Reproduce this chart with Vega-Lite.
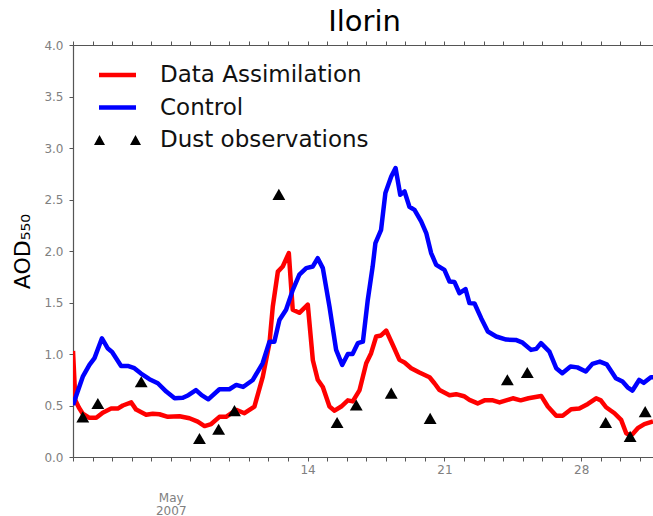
{
  "$schema": "https://vega.github.io/schema/vega-lite/v6.json",
  "width": 580,
  "height": 412,
  "autosize": {"type": "none"},
  "padding": {"left": 73, "top": 45, "right": 0, "bottom": 59},
  "background": "white",
  "title": {"text": "Ilorin", "fontSize": 29, "font": "DejaVu Sans", "fontWeight": "normal", "color": "#000000", "frame": "group", "anchor": "middle", "offset": 9, "baseline": "alphabetic", "dx": 1.5, "dy": 30},
  "config": {
    "font": "DejaVu Sans",
    "view": {"stroke": null},
    "axis": {"grid": false, "domainColor": "#555555", "tickColor": "#555555", "labelColor": "#808080", "labelFont": "DejaVu Sans", "labelFontSize": 12, "tickSize": 4, "domainWidth": 1.2, "tickWidth": 1}
  },
  "datasets": {
    "lines": [
      {"s": "Data Assimilation", "d": 2.0, "v": 1.03},
      {"s": "Data Assimilation", "d": 2.12, "v": 0.55},
      {"s": "Data Assimilation", "d": 2.3, "v": 0.48},
      {"s": "Data Assimilation", "d": 2.5, "v": 0.42},
      {"s": "Data Assimilation", "d": 2.84, "v": 0.38},
      {"s": "Data Assimilation", "d": 3.19, "v": 0.38},
      {"s": "Data Assimilation", "d": 3.52, "v": 0.43},
      {"s": "Data Assimilation", "d": 3.95, "v": 0.47},
      {"s": "Data Assimilation", "d": 4.29, "v": 0.47},
      {"s": "Data Assimilation", "d": 4.55, "v": 0.5},
      {"s": "Data Assimilation", "d": 4.98, "v": 0.53},
      {"s": "Data Assimilation", "d": 5.23, "v": 0.46},
      {"s": "Data Assimilation", "d": 5.74, "v": 0.41},
      {"s": "Data Assimilation", "d": 6.08, "v": 0.42},
      {"s": "Data Assimilation", "d": 6.42, "v": 0.415},
      {"s": "Data Assimilation", "d": 6.85, "v": 0.39},
      {"s": "Data Assimilation", "d": 7.45, "v": 0.395},
      {"s": "Data Assimilation", "d": 7.96, "v": 0.376},
      {"s": "Data Assimilation", "d": 8.38, "v": 0.343},
      {"s": "Data Assimilation", "d": 8.73, "v": 0.3},
      {"s": "Data Assimilation", "d": 9.07, "v": 0.32},
      {"s": "Data Assimilation", "d": 9.49, "v": 0.39},
      {"s": "Data Assimilation", "d": 9.83, "v": 0.39},
      {"s": "Data Assimilation", "d": 10.35, "v": 0.457},
      {"s": "Data Assimilation", "d": 10.77, "v": 0.425},
      {"s": "Data Assimilation", "d": 11.28, "v": 0.49},
      {"s": "Data Assimilation", "d": 11.71, "v": 0.78},
      {"s": "Data Assimilation", "d": 12.05, "v": 1.105},
      {"s": "Data Assimilation", "d": 12.22, "v": 1.46},
      {"s": "Data Assimilation", "d": 12.48, "v": 1.8},
      {"s": "Data Assimilation", "d": 12.73, "v": 1.85},
      {"s": "Data Assimilation", "d": 13.04, "v": 1.98},
      {"s": "Data Assimilation", "d": 13.24, "v": 1.43},
      {"s": "Data Assimilation", "d": 13.58, "v": 1.4},
      {"s": "Data Assimilation", "d": 14.01, "v": 1.48},
      {"s": "Data Assimilation", "d": 14.27, "v": 0.94},
      {"s": "Data Assimilation", "d": 14.52, "v": 0.75},
      {"s": "Data Assimilation", "d": 14.78, "v": 0.68},
      {"s": "Data Assimilation", "d": 15.12, "v": 0.49},
      {"s": "Data Assimilation", "d": 15.38, "v": 0.45},
      {"s": "Data Assimilation", "d": 15.72, "v": 0.49},
      {"s": "Data Assimilation", "d": 16.06, "v": 0.55},
      {"s": "Data Assimilation", "d": 16.31, "v": 0.54},
      {"s": "Data Assimilation", "d": 16.66, "v": 0.65},
      {"s": "Data Assimilation", "d": 17.0, "v": 0.91},
      {"s": "Data Assimilation", "d": 17.25, "v": 1.008},
      {"s": "Data Assimilation", "d": 17.51, "v": 1.17},
      {"s": "Data Assimilation", "d": 17.76, "v": 1.18},
      {"s": "Data Assimilation", "d": 18.02, "v": 1.228},
      {"s": "Data Assimilation", "d": 18.36, "v": 1.088},
      {"s": "Data Assimilation", "d": 18.7, "v": 0.943},
      {"s": "Data Assimilation", "d": 18.96, "v": 0.917},
      {"s": "Data Assimilation", "d": 19.3, "v": 0.862},
      {"s": "Data Assimilation", "d": 19.72, "v": 0.82},
      {"s": "Data Assimilation", "d": 20.24, "v": 0.774},
      {"s": "Data Assimilation", "d": 20.49, "v": 0.716},
      {"s": "Data Assimilation", "d": 20.75, "v": 0.65},
      {"s": "Data Assimilation", "d": 21.26, "v": 0.6},
      {"s": "Data Assimilation", "d": 21.6, "v": 0.61},
      {"s": "Data Assimilation", "d": 22.0, "v": 0.59},
      {"s": "Data Assimilation", "d": 22.28, "v": 0.554},
      {"s": "Data Assimilation", "d": 22.7, "v": 0.52},
      {"s": "Data Assimilation", "d": 23.05, "v": 0.55},
      {"s": "Data Assimilation", "d": 23.48, "v": 0.55},
      {"s": "Data Assimilation", "d": 23.82, "v": 0.53},
      {"s": "Data Assimilation", "d": 24.33, "v": 0.56},
      {"s": "Data Assimilation", "d": 24.5, "v": 0.57},
      {"s": "Data Assimilation", "d": 24.9, "v": 0.55},
      {"s": "Data Assimilation", "d": 25.3, "v": 0.57},
      {"s": "Data Assimilation", "d": 25.95, "v": 0.593},
      {"s": "Data Assimilation", "d": 26.29, "v": 0.49},
      {"s": "Data Assimilation", "d": 26.72, "v": 0.4},
      {"s": "Data Assimilation", "d": 27.05, "v": 0.4},
      {"s": "Data Assimilation", "d": 27.48, "v": 0.463},
      {"s": "Data Assimilation", "d": 27.9, "v": 0.47},
      {"s": "Data Assimilation", "d": 28.34, "v": 0.515},
      {"s": "Data Assimilation", "d": 28.76, "v": 0.57},
      {"s": "Data Assimilation", "d": 29.0, "v": 0.55},
      {"s": "Data Assimilation", "d": 29.27, "v": 0.483},
      {"s": "Data Assimilation", "d": 29.7, "v": 0.425},
      {"s": "Data Assimilation", "d": 30.04, "v": 0.36},
      {"s": "Data Assimilation", "d": 30.3, "v": 0.23},
      {"s": "Data Assimilation", "d": 30.5, "v": 0.21},
      {"s": "Data Assimilation", "d": 30.63, "v": 0.224},
      {"s": "Data Assimilation", "d": 30.89, "v": 0.28},
      {"s": "Data Assimilation", "d": 31.23, "v": 0.32},
      {"s": "Data Assimilation", "d": 31.67, "v": 0.345},
      {"s": "Control", "d": 2.0, "v": 0.505},
      {"s": "Control", "d": 2.5, "v": 0.78},
      {"s": "Control", "d": 2.84, "v": 0.894},
      {"s": "Control", "d": 3.1, "v": 0.96},
      {"s": "Control", "d": 3.48, "v": 1.153},
      {"s": "Control", "d": 3.77, "v": 1.056},
      {"s": "Control", "d": 4.0, "v": 1.02},
      {"s": "Control", "d": 4.46, "v": 0.884},
      {"s": "Control", "d": 4.8, "v": 0.884},
      {"s": "Control", "d": 5.14, "v": 0.862},
      {"s": "Control", "d": 5.48, "v": 0.81},
      {"s": "Control", "d": 5.91, "v": 0.755},
      {"s": "Control", "d": 6.34, "v": 0.716},
      {"s": "Control", "d": 6.77, "v": 0.635},
      {"s": "Control", "d": 7.2, "v": 0.57},
      {"s": "Control", "d": 7.62, "v": 0.575},
      {"s": "Control", "d": 7.9, "v": 0.6},
      {"s": "Control", "d": 8.29, "v": 0.65},
      {"s": "Control", "d": 8.58, "v": 0.6},
      {"s": "Control", "d": 8.92, "v": 0.56},
      {"s": "Control", "d": 9.49, "v": 0.658},
      {"s": "Control", "d": 10.0, "v": 0.658},
      {"s": "Control", "d": 10.35, "v": 0.7},
      {"s": "Control", "d": 10.7, "v": 0.68},
      {"s": "Control", "d": 11.2, "v": 0.748},
      {"s": "Control", "d": 11.7, "v": 0.91},
      {"s": "Control", "d": 12.05, "v": 1.12},
      {"s": "Control", "d": 12.3, "v": 1.12},
      {"s": "Control", "d": 12.56, "v": 1.33},
      {"s": "Control", "d": 12.9, "v": 1.43},
      {"s": "Control", "d": 13.24, "v": 1.62},
      {"s": "Control", "d": 13.58, "v": 1.77},
      {"s": "Control", "d": 13.93, "v": 1.834},
      {"s": "Control", "d": 14.27, "v": 1.85},
      {"s": "Control", "d": 14.52, "v": 1.93},
      {"s": "Control", "d": 14.78, "v": 1.834},
      {"s": "Control", "d": 15.12, "v": 1.46},
      {"s": "Control", "d": 15.46, "v": 1.04},
      {"s": "Control", "d": 15.77, "v": 0.894},
      {"s": "Control", "d": 16.06, "v": 1.0},
      {"s": "Control", "d": 16.3, "v": 1.0},
      {"s": "Control", "d": 16.57, "v": 1.105},
      {"s": "Control", "d": 16.83, "v": 1.12},
      {"s": "Control", "d": 17.08, "v": 1.526},
      {"s": "Control", "d": 17.33, "v": 1.85},
      {"s": "Control", "d": 17.47, "v": 2.077},
      {"s": "Control", "d": 17.76, "v": 2.206},
      {"s": "Control", "d": 17.98, "v": 2.563},
      {"s": "Control", "d": 18.28, "v": 2.724},
      {"s": "Control", "d": 18.5, "v": 2.806},
      {"s": "Control", "d": 18.74, "v": 2.546},
      {"s": "Control", "d": 18.96, "v": 2.578},
      {"s": "Control", "d": 19.21, "v": 2.43},
      {"s": "Control", "d": 19.47, "v": 2.4},
      {"s": "Control", "d": 19.81, "v": 2.287},
      {"s": "Control", "d": 20.07, "v": 2.174},
      {"s": "Control", "d": 20.32, "v": 1.98},
      {"s": "Control", "d": 20.58, "v": 1.866},
      {"s": "Control", "d": 21.0, "v": 1.817},
      {"s": "Control", "d": 21.26, "v": 1.704},
      {"s": "Control", "d": 21.51, "v": 1.7},
      {"s": "Control", "d": 21.77, "v": 1.59},
      {"s": "Control", "d": 22.08, "v": 1.63},
      {"s": "Control", "d": 22.28, "v": 1.494},
      {"s": "Control", "d": 22.54, "v": 1.49},
      {"s": "Control", "d": 22.88, "v": 1.348},
      {"s": "Control", "d": 23.22, "v": 1.218},
      {"s": "Control", "d": 23.65, "v": 1.17},
      {"s": "Control", "d": 24.16, "v": 1.14},
      {"s": "Control", "d": 24.65, "v": 1.137},
      {"s": "Control", "d": 25.0, "v": 1.11},
      {"s": "Control", "d": 25.43, "v": 1.04},
      {"s": "Control", "d": 25.7, "v": 1.05},
      {"s": "Control", "d": 25.94, "v": 1.105},
      {"s": "Control", "d": 26.37, "v": 1.023},
      {"s": "Control", "d": 26.72, "v": 0.862},
      {"s": "Control", "d": 27.03, "v": 0.813},
      {"s": "Control", "d": 27.45, "v": 0.878},
      {"s": "Control", "d": 27.8, "v": 0.87},
      {"s": "Control", "d": 28.23, "v": 0.83},
      {"s": "Control", "d": 28.57, "v": 0.904},
      {"s": "Control", "d": 28.95, "v": 0.926},
      {"s": "Control", "d": 29.3, "v": 0.9},
      {"s": "Control", "d": 29.77, "v": 0.765},
      {"s": "Control", "d": 30.11, "v": 0.732},
      {"s": "Control", "d": 30.37, "v": 0.677},
      {"s": "Control", "d": 30.62, "v": 0.645},
      {"s": "Control", "d": 30.96, "v": 0.748},
      {"s": "Control", "d": 31.2, "v": 0.72},
      {"s": "Control", "d": 31.56, "v": 0.775},
      {"s": "Control", "d": 31.67, "v": 0.775}
    ],
    "dust": [
      {"s": "Dust observations", "d": 2.5, "v": 0.39},
      {"s": "Dust observations", "d": 3.27, "v": 0.52},
      {"s": "Dust observations", "d": 5.49, "v": 0.73},
      {"s": "Dust observations", "d": 8.47, "v": 0.18},
      {"s": "Dust observations", "d": 9.45, "v": 0.27},
      {"s": "Dust observations", "d": 10.26, "v": 0.45},
      {"s": "Dust observations", "d": 12.53, "v": 2.55},
      {"s": "Dust observations", "d": 15.51, "v": 0.335},
      {"s": "Dust observations", "d": 16.49, "v": 0.505},
      {"s": "Dust observations", "d": 18.28, "v": 0.62},
      {"s": "Dust observations", "d": 20.27, "v": 0.375},
      {"s": "Dust observations", "d": 24.22, "v": 0.75},
      {"s": "Dust observations", "d": 25.24, "v": 0.82},
      {"s": "Dust observations", "d": 29.25, "v": 0.335},
      {"s": "Dust observations", "d": 30.5, "v": 0.2},
      {"s": "Dust observations", "d": 31.27, "v": 0.44}
    ]
  },
  "layer": [
    {
      "data": {"name": "lines"},
      "mark": {"type": "line", "strokeWidth": 4.5, "strokeJoin": "round", "clip": true},
      "encoding": {
        "x": {
          "field": "d", "type": "quantitative",
          "scale": {"domain": [2, 31.67], "nice": false, "zero": false},
          "axis": {
            "orient": "bottom", "title": null,
            "values": [2,3,4,5,6,7,8,9,10,11,12,13,14,15,16,17,18,19,20,21,22,23,24,25,26,27,28,29,30,31],
            "labelExpr": "datum.value == 7 ? ['May', '2007'] : ((datum.value == 14 || datum.value == 21 || datum.value == 28) ? datum.label : '')",
            "labelOverlap": false, "labelFlush": false, "labelLineHeight": 13, "labelBound": false,
            "labelPadding": {"condition": {"test": "datum.value == 7", "value": 31}, "value": 3}
          }
        },
        "y": {
          "field": "v", "type": "quantitative",
          "scale": {"domain": [0, 4], "nice": false},
          "axis": {
            "title": "AOD₅₅₀", "titleFontSize": 22, "titleFont": "DejaVu Sans", "titleFontWeight": "normal", "titleColor": "#000000", "titlePadding": 9,
            "values": [0, 0.5, 1, 1.5, 2, 2.5, 3, 3.5, 4], "format": ".1f", "labelPadding": 6
          }
        },
        "stroke": {
          "field": "s", "type": "nominal",
          "scale": {"domain": ["Data Assimilation", "Control"], "range": ["#ff0000", "#0000ff"]},
          "legend": null
        }
      }
    },
    {
      "data": {"name": "dust"},
      "mark": {"type": "point", "shape": "triangle-up", "filled": true, "color": "#000000", "size": 165, "opacity": 1},
      "encoding": {
        "x": {
          "field": "d", "type": "quantitative",
          "scale": {"domain": [2, 31.67], "nice": false, "zero": false},
          "axis": {
            "orient": "top", "title": null, "labels": false,
            "values": [2,3,4,5,6,7,8,9,10,11,12,13,14,15,16,17,18,19,20,21,22,23,24,25,26,27,28,29,30,31]
          }
        },
        "y": {"field": "v", "type": "quantitative", "scale": {"domain": [0, 4], "nice": false}}
      }
    },
    {
      "data": {"name": "dust"},
      "mark": {"type": "point", "filled": true, "opacity": 0},
      "encoding": {
        "x": {"field": "d", "type": "quantitative", "scale": {"domain": [2, 31.67], "nice": false, "zero": false}, "axis": null},
        "y": {"field": "v", "type": "quantitative", "scale": {"domain": [0, 4], "nice": false}},
        "color": {
          "field": "s", "type": "nominal",
          "scale": {"domain": ["Data Assimilation", "Control", "Dust observations"], "range": ["#ff0000", "#0000ff", "#000000"]},
          "legend": {"title": null, "orient": "none", "legendX": 33, "legendY": 18.5, "padding": 0, "symbolSize": 400, "labelFontSize": 23, "labelFont": "DejaVu Sans", "labelColor": "#111111", "labelOffset": 31, "rowPadding": 8.5, "symbolOpacity": 1, "symbolOffset": 0, "labelLimit": 400}
        },
        "shape": {
          "field": "s", "type": "nominal",
          "scale": {"domain": ["Data Assimilation", "Control", "Dust observations"], "range": ["M-1.85,-0.22H1.85V0.22H-1.85Z", "M-1.85,-0.22H1.85V0.22H-1.85Z", "M-2.35,0.5L-1.8,-0.5L-1.25,0.5Z M1.25,0.5L1.8,-0.5L2.35,0.5Z"]},
          "legend": {"title": null, "orient": "none", "legendX": 33, "legendY": 18.5, "padding": 0, "symbolSize": 400, "labelFontSize": 23, "labelFont": "DejaVu Sans", "labelColor": "#111111", "labelOffset": 31, "rowPadding": 8.5, "symbolOpacity": 1, "symbolOffset": 0, "labelLimit": 400}
        }
      }
    }
  ],
  "resolve": {"axis": {"x": "independent"}}
}
